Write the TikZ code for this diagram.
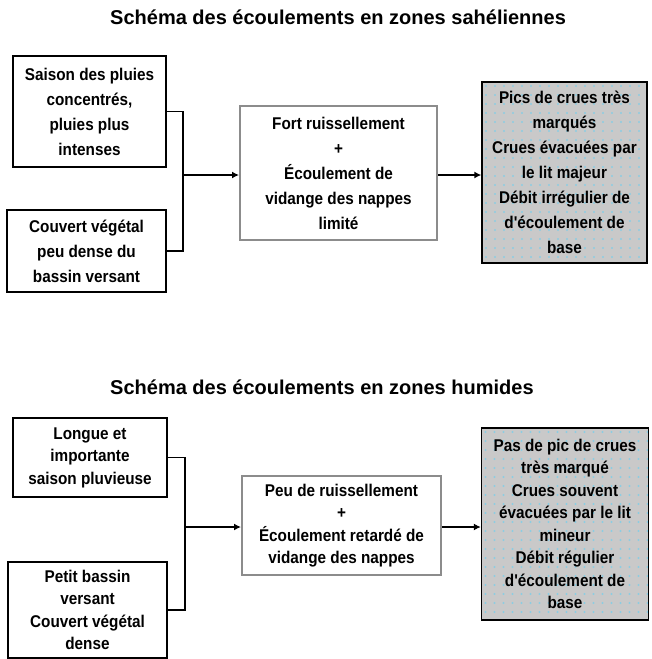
\documentclass[tikz,border=0pt]{standalone}
\usepackage{fontspec}
\setmainfont{Liberation Sans}
\newfontfamily\boxfont[FakeStretch=0.9]{Liberation Sans}
\usetikzlibrary{arrows.meta}
\definecolor{dotc}{HTML}{8CCDE2}
\definecolor{boxgray}{HTML}{C9C9C9}
\tikzset{
  titletext/.style={anchor=west, inner sep=0pt, font={\bfseries\fontsize{20}{24}\selectfont}},
  inbox/.style={draw=black, line width=1.5pt, fill=white, inner sep=0pt, align=center,
    font={\boxfont\bfseries\fontsize{17}{25}\selectfont}},
  midbox/.style={draw=gray!90, line width=2pt, fill=white, inner sep=0pt, align=center,
    font={\boxfont\bfseries\fontsize{17}{25}\selectfont}},
  outbox/.style={draw=black, line width=1.3pt, fill=boxgray, inner sep=0pt, align=center,
    font={\boxfont\bfseries\fontsize{17}{25}\selectfont},
    path picture={
      \foreach \i in {0,...,19}{
        \foreach \j in {0,...,22}{
          \fill[dotc] (path picture bounding box.north west) ++(4+9*\i,4+9*\j) circle[radius=1.1];
        }
      }
    }},
  tight/.style={font={\boxfont\bfseries\fontsize{17}{22.5}\selectfont}},
  conn/.style={line width=1.6pt, black},
  arr/.style={conn, -{Latex[length=7pt,width=7pt]}}
}
\begin{document}
\begin{tikzpicture}[x=1pt,y=-1pt]
\useasboundingbox[fill=white] (0,0) rectangle (651,659);

% Top diagram
\node[titletext] (t1) at (110,17) {Schéma des écoulements en zones sahéliennes};

\node[inbox, minimum width=153pt, minimum height=111pt] (b1) at (89.5,111.5)
  {Saison des pluies\\concentrés,\\pluies plus\\intenses};
\node[inbox, minimum width=159pt, minimum height=82pt] (b2) at (86.5,251)
  {Couvert végétal\\peu dense du\\bassin versant};
\node[midbox, minimum width=197pt, minimum height=134pt] (b3) at (338.5,173)
  {Fort ruissellement\\+\\Écoulement de\\vidange des nappes\\limité};
\node[outbox, minimum width=165pt, minimum height=181pt] (b4) at (564.5,172.5)
  {Pics de crues très\\marqués\\Crues évacuées par\\le lit majeur\\Débit irrégulier de\\d'écoulement de\\base};

\coordinate (j1) at (183,175);
\draw[conn] (b1.east) -| (j1) |- (b2.east);
\draw[arr] (j1) -- (j1 -| b3.west);
\draw[arr] (b3.east |- j1) -- (j1 -| b4.west);

% Bottom diagram
\node[titletext] (t2) at (110,387) {Schéma des écoulements en zones humides};

\node[inbox, tight, minimum width=154pt, minimum height=79pt] (b5) at (90,457.5)
  {Longue et\\importante\\saison pluvieuse};
\node[inbox, tight, minimum width=159pt, minimum height=96pt] (b6) at (87.5,610)
  {Petit bassin\\versant\\Couvert végétal\\dense};
\node[midbox, tight, minimum width=199pt, minimum height=99pt] (b7) at (341.5,525.5)
  {Peu de ruissellement\\+\\Écoulement retardé de\\vidange des nappes};
\node[outbox, tight, minimum width=167pt, minimum height=192pt] (b8) at (565,524)
  {Pas de pic de crues\\très marqué\\Crues souvent\\évacuées par le lit\\mineur\\Débit régulier\\d'écoulement de\\base};

\coordinate (j2) at (185,527);
\draw[conn] (b5.east) -| (j2) |- (b6.east);
\draw[arr] (j2) -- (j2 -| b7.west);
\draw[arr] (b7.east |- j2) -- (j2 -| b8.west);
\end{tikzpicture}
\end{document}
